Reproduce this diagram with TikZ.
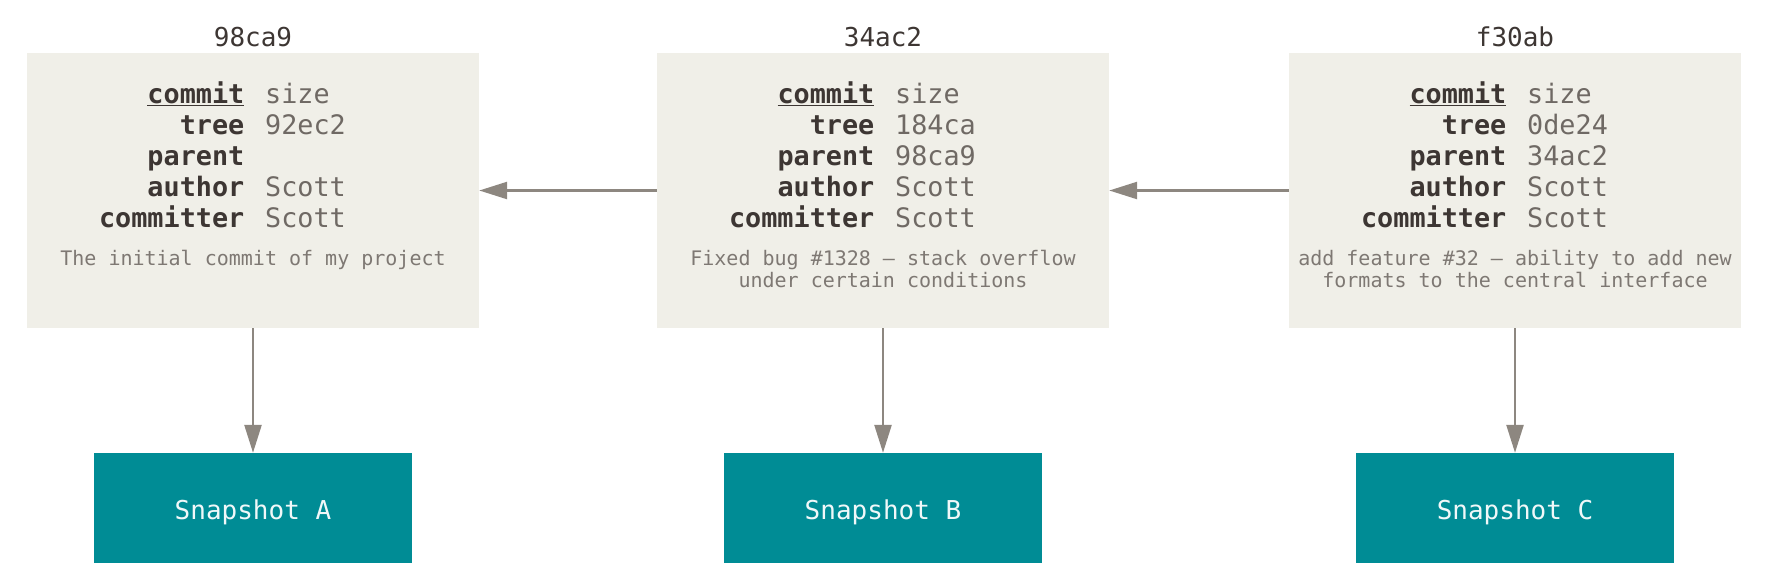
\documentclass[tikz,border=0pt]{standalone}
\usepackage{fontspec}
\setmonofont{DejaVu Sans Mono}
\usetikzlibrary{arrows.meta, calc, positioning}
\def\commitwidth{452pt}
\def\commitheight{275pt}
\def\snapshotwidth{318pt}
\def\snapshotheight{110pt}
\def\rowskip{31}
\definecolor{commitfill}{HTML}{F0EFE8}
\definecolor{snapshotfill}{HTML}{008C95}
\definecolor{pointercolor}{HTML}{8D8780}
\definecolor{namecolor}{HTML}{3D3633}
\definecolor{valuecolor}{HTML}{6F6964}
\definecolor{messagecolor}{HTML}{7E7873}
\tikzset{
	% commit object
	commit_box/.style={
		fill=commitfill,
		shape=rectangle,
		inner sep=0,
		minimum width=\commitwidth,
		minimum height=\commitheight,
	},
	% hash above a commit
	commit_title/.style={
		font=\fontsize{26}{31}\selectfont\ttfamily,
		text=namecolor,
		anchor=base,
	},
	% fields
	field_name/.style={
		font=\fontsize{26.8}{31}\selectfont\ttfamily\bfseries,
		text=namecolor,
		anchor=base east,
		inner sep=0,
	},
	field_value/.style={
		font=\fontsize{26.8}{31}\selectfont\ttfamily,
		text=valuecolor,
		anchor=base west,
		inner sep=0,
	},
	% commit message
	commit_message/.style={
		font=\fontsize{20}{22}\selectfont\ttfamily,
		text=messagecolor,
		align=center,
		anchor=north,
		inner sep=0,
	},
	% snapshot
	snapshot_box/.style={
		fill=snapshotfill,
		shape=rectangle,
		font=\fontsize{26}{31}\selectfont\ttfamily,
		text=white!94!snapshotfill,
		text height=22pt,
		text depth=0pt,
		minimum width=\snapshotwidth,
		minimum height=\snapshotheight,
	},
	% connections
	pointer/.style={
		draw=pointercolor,
		line width=2.5pt,
		-{Triangle[length=28pt, width=17pt]},
	},
}
\begin{document}
\begin{tikzpicture}[x=1pt, y=-1pt]
	\useasboundingbox (0,0) rectangle (1768,587);
	% Commits
	\foreach \i/\x/\hash/\tree/\parent/\msg in {
		1/253/98ca9/92ec2//{The initial commit of my project},
		2/883/34ac2/184ca/98ca9/{Fixed bug \#1328 – stack overflow\\under certain conditions},
		3/1515/f30ab/0de24/34ac2/{add feature \#32 – ability to add new\\formats to the central interface}} {
		\node[commit_box] (commit\i) at (\x,190.5) {};
		\node[commit_title] (title\i) at (\x,46) {\hash};
		%% Fields
		\foreach \name/\val [count=\r] in {{\underline{commit}}/size, tree/\tree, parent/\parent, author/Scott, committer/Scott} {
			\node[field_name] (name\i\r) at ($(\x,72) + (-8.5,\rowskip*\r)$) {\name};
			\node[field_value] (value\i\r) at ($(\x,72) + (12,\rowskip*\r)$) {\val};
		}
		%% Message
		\node[commit_message] (message\i) at (\x,250) {\msg};
	}

	% Snapshots
	\foreach \i/\x/\letter in {1/253/A, 2/883/B, 3/1515/C} {
		\node[snapshot_box] (snapshot\i) at (\x,508) {Snapshot \letter};
	}

	% Connections
	\draw[pointer] (commit2.west) -- (commit1.east);
	\draw[pointer] (commit3.west) -- (commit2.east);
	\foreach \i in {1,2,3} {
		\draw[pointer] (commit\i.south) -- (snapshot\i.north);
	}
\end{tikzpicture}
\end{document}
